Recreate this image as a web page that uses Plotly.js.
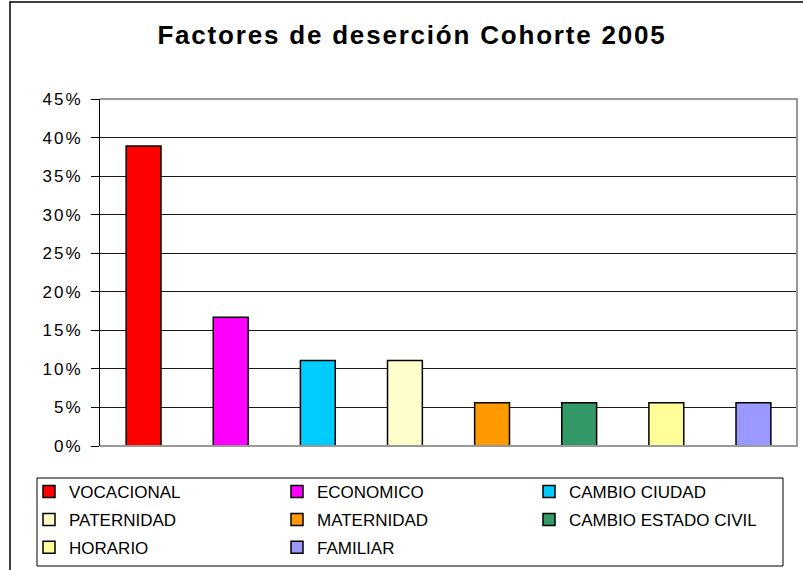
<!DOCTYPE html>
<html>
<head>
<meta charset="utf-8">
<script src="https://cdn.plot.ly/plotly-3.0.1.min.js"></script>
<style>
  html, body { margin: 0; padding: 0; background: #fff; }
  #chart { width: 803px; height: 570px; }
  /* the reference renders its text noticeably wide */
  #chart .gtitle { letter-spacing: 1.8px; }
  #chart .ytick text { letter-spacing: 2px; }
</style>
</head>
<body>
<div id="chart"></div>
<script>
// ---- data ----
const categories = ['VOCACIONAL', 'ECONOMICO', 'CAMBIO CIUDAD', 'PATERNIDAD',
                    'MATERNIDAD', 'CAMBIO ESTADO CIVIL', 'HORARIO', 'FAMILIAR'];
const values = [0.389, 0.167, 0.111, 0.111, 0.056, 0.056, 0.056, 0.056];
const colors = ['#FF0000', '#FF00FF', '#00CCFF', '#FFFFCC',
                '#FF9900', '#339966', '#FFFF99', '#9999FF'];
// legend column each category appears in (Excel fills rows left to right)
const legendColumn = ['legend', 'legend2', 'legend3', 'legend',
                      'legend2', 'legend3', 'legend', 'legend2'];
const titleText = 'Factores de deserción Cohorte 2005';

// ---- layout helpers (pixel -> paper) ----
const W = 803, H = 570;
const M = { l: 100, r: 6, t: 99, b: 124, autoexpand: false };
const PW = W - M.l - M.r, PH = H - M.t - M.b;
const px = x => (x - M.l) / PW;
const py = y => (H - M.b - y) / PH;

const traces = categories.map((c, i) => ({
  type: 'bar',
  name: c,
  x: [c],
  y: [values[i]],
  width: 0.4,
  marker: { color: colors[i], line: { color: '#000', width: 1.5 } },
  legend: legendColumn[i],
  legendgroup: c,
  hoverinfo: 'name+y'
}));

const FONT = 'Liberation Sans, Arial, sans-serif';
const legendFont = { family: FONT, size: 17, color: '#000' };
function legendAt(xpix) {
  return {
    x: px(xpix), xanchor: 'left',
    y: py(474), yanchor: 'top',
    orientation: 'v',
    bgcolor: 'rgba(0,0,0,0)',
    borderwidth: 0,
    font: legendFont,
    itemwidth: 30,
    tracegroupgap: 2.8,
    traceorder: 'grouped'
  };
}

const layout = {
  width: W, height: H,
  margin: M,
  paper_bgcolor: '#fff',
  plot_bgcolor: '#fff',
  barmode: 'overlay',
  showlegend: true,
  title: {
    text: '<b>' + titleText + '</b>',
    font: { family: FONT, size: 26, color: '#000' },
    x: 412 / W, xanchor: 'center',
    y: 1 - 35 / H, yanchor: 'middle',
    xref: 'container', yref: 'container'
  },
  xaxis: {
    type: 'category',
    categoryorder: 'array',
    categoryarray: categories,
    showticklabels: false,
    showgrid: false,
    zeroline: false,
    showline: false,
    ticks: ''
  },
  yaxis: {
    range: [0, 0.45],
    dtick: 0.05,
    tickformat: '.0%',
    showgrid: true,
    gridcolor: '#1a1a1a',
    gridwidth: 1,
    zeroline: false,
    showline: true,
    linecolor: '#000',
    linewidth: 1,
    ticks: 'outside',
    ticklen: 8,
    tickcolor: '#000',
    tickwidth: 1,
    ticklabelstandoff: 5,
    tickfont: { family: FONT, size: 17, color: '#000' }
  },
  legend: legendAt(29),
  legend2: legendAt(277),
  legend3: legendAt(529),
  shapes: [
    // outer chart frame (left & top visible)
    { type: 'rect', xref: 'paper', yref: 'paper',
      x0: px(10), x1: px(830), y0: py(600), y1: py(2),
      line: { color: '#000', width: 1.5 }, fillcolor: 'rgba(0,0,0,0)', layer: 'below' },
    // plot-area border (gray): top, right, bottom
    { type: 'path', xref: 'paper', yref: 'paper',
      path: 'M0,1 L1,1 L1,0 L0,0',
      line: { color: '#999', width: 2 }, layer: 'above' },
    // legend box
    { type: 'rect', xref: 'paper', yref: 'paper',
      x0: px(37), x1: px(783), y0: py(566), y1: py(478),
      line: { color: '#000', width: 1 }, fillcolor: 'rgba(0,0,0,0)', layer: 'below' }
  ]
};

Plotly.newPlot('chart', traces, layout, { displayModeBar: false, staticPlot: true });
</script>
</body>
</html>
